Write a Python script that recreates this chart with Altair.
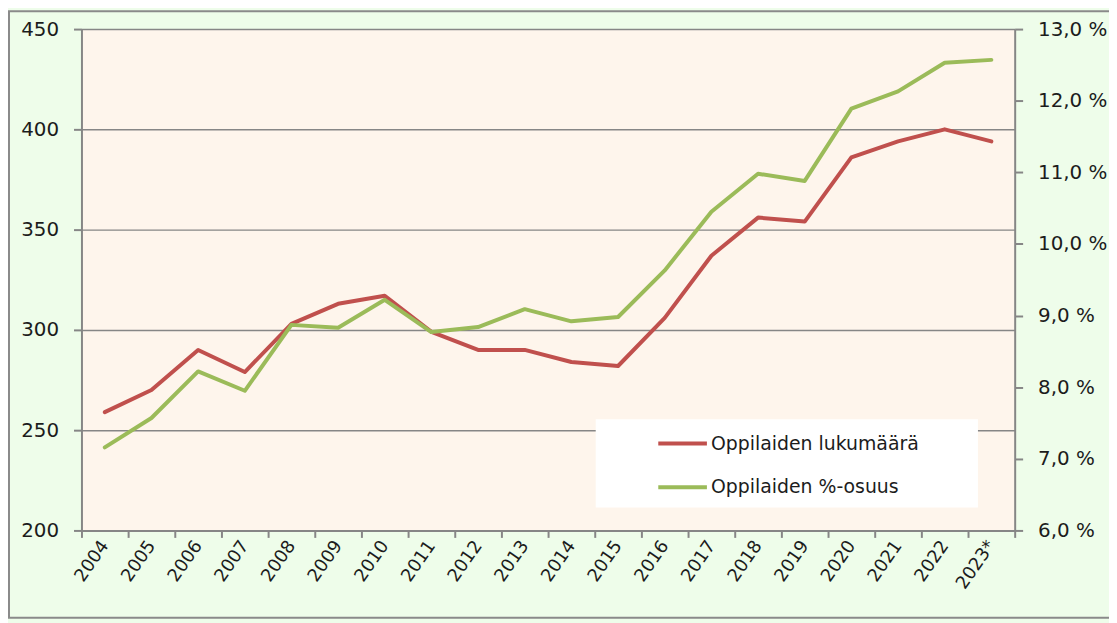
import altair as alt
import pandas as pd

years = ["2004", "2005", "2006", "2007", "2008", "2009", "2010", "2011", "2012", "2013",
         "2014", "2015", "2016", "2017", "2018", "2019", "2020", "2021", "2022", "2023*"]
lukumaara = [259, 270, 290, 279, 303, 313, 317, 299, 290, 290,
             284, 282, 306, 337, 356, 354, 386, 394, 400, 394]
osuus = [7.16, 7.57, 8.22, 7.95, 8.87, 8.83, 9.22, 8.77, 8.84, 9.09,
         8.92, 8.98, 9.63, 10.45, 10.98, 10.88, 11.89, 12.13, 12.53, 12.57]
series_names = ["Oppilaiden lukumäärä", "Oppilaiden %-osuus"]
series_colors = ["#C0504D", "#9BBB59"]
left_ticks = [200, 250, 300, 350, 400, 450]
right_ticks = [6, 7, 8, 9, 10, 11, 12, 13]

df = pd.DataFrame({"vuosi": years, "lukumaara": lukumaara, "osuus": osuus})

FONT = "DejaVu Sans"
GRID = "#868686"
TXT = "#1c1c1c"
FS = 20

color_scale = alt.Scale(domain=series_names, range=series_colors)
legend = alt.Legend(
    title=None, orient="none", legendX=579, legendY=391, padding=0,
    symbolType="stroke", symbolSize=2400, symbolStrokeWidth=4,
    labelFont=FONT, labelFontSize=19, labelColor=TXT, labelOffset=2,
    labelLimit=0, rowPadding=7,
)

x_enc = alt.X(
    "vuosi:N", sort=years, title=None,
    scale=alt.Scale(type="band", paddingInner=0, paddingOuter=0),
    axis=alt.Axis(labelAngle=305, tickBand="extent", tickSize=7, tickWidth=2,
                  tickColor=GRID, domainColor=GRID, domainWidth=2, grid=False,
                  labelFont=FONT, labelFontSize=18, labelColor=TXT, labelPadding=5),
)
color_enc = alt.Color("sarja:N", scale=color_scale, legend=legend)

base = alt.Chart(df)

frame = alt.Chart(alt.Data(values=[{"a": 1}])).mark_rect(
    fillOpacity=0, stroke="#8a8a8a", strokeWidth=2
).encode(x=alt.value(-73), x2=alt.value(1036), y=alt.value(-18), y2=alt.value(593))

red = base.transform_calculate(sarja=f"'{series_names[0]}'").mark_line(
    strokeWidth=4, strokeCap="round", strokeJoin="round").encode(
    x=x_enc,
    y=alt.Y("lukumaara:Q", title=None,
            scale=alt.Scale(domain=[200, 450], nice=False, zero=False),
            axis=alt.Axis(values=left_ticks, grid=True, gridColor=GRID, gridWidth=1.5,
                          tickSize=8, tickWidth=2, tickColor=GRID, domainColor=GRID,
                          domainWidth=2, labelFont=FONT, labelFontSize=FS,
                          labelColor=TXT, labelPadding=15)),
    color=color_enc,
)

green = base.transform_calculate(sarja=f"'{series_names[1]}'").mark_line(
    strokeWidth=4, strokeCap="round", strokeJoin="round").encode(
    x=x_enc,
    y=alt.Y("osuus:Q", title=None,
            scale=alt.Scale(domain=[6, 13], nice=False, zero=False),
            axis=alt.Axis(orient="right", values=right_ticks, grid=False,
                          tickSize=8, tickWidth=2, tickColor=GRID, domainColor=GRID,
                          domainWidth=2, labelFont=FONT, labelFontSize=FS,
                          labelColor=TXT, labelPadding=15,
                          labelExpr="replace(format(datum.value, '.1f'), '.', ',') + ' %'")),
    color=color_enc,
)

legend_box = alt.Chart(alt.Data(values=[{"a": 1}])).mark_rect(fill="white").encode(
    x=alt.value(518), x2=alt.value(903), y=alt.value(393), y2=alt.value(482)
)

chart = alt.layer(frame, legend_box, red, green).resolve_scale(y="independent").properties(
    width=940, height=505,
    autosize=alt.AutoSizeParams(type="none"),
    padding={"left": 74, "top": 19, "right": 95, "bottom": 91},
    background="#EEFDEA",
).configure_view(fill="#FEF5EC", strokeWidth=0).configure_axis(
    labelFont=FONT, labelFontSize=FS, labelColor=TXT
)

chart.save("out.html", embed_options={"renderer": "svg", "actions": False})
